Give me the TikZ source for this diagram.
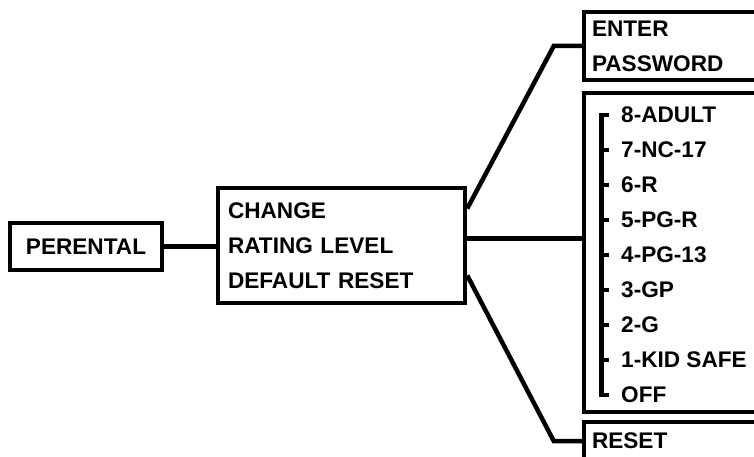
\documentclass[tikz,border=0pt]{standalone}
\usepackage{fontspec}
\setmainfont{Liberation Sans}
\begin{document}
\begin{tikzpicture}[x=1pt, y=-1pt, font=\fontsize{22.6}{35}\selectfont\bfseries]
			\tikzset{box/.style={draw, line width=4.5pt, rectangle, inner ysep=0pt, inner xsep=8pt, align=left},
				wire/.style={draw, line width=4.5pt}}
			\useasboundingbox (0,0) rectangle (754,457);
			\clip (0,0) rectangle (754,457);
			\node[box, minimum width=152pt, minimum height=47pt, align=center] (perental) at (86,246.5) {PERENTAL};
			\node[box, text width=227pt, inner xsep=10pt, minimum height=115pt] (menu) at (341.5,245.5) {CHANGE\\RATING LEVEL\\DEFAULT RESET};
			\node[box, text width=184pt, minimum height=68pt] (pass) at (684,46) {ENTER\\PASSWORD};
			\node[box, minimum width=200pt, minimum height=319pt] (rate) at (684,252.5) {};
			\node[box, text width=184pt, minimum height=38pt] (reset) at (684,441) {RESET};
			% rating levels
			\foreach \lbl [count=\k from 0] in {8-ADULT,7-NC-17,6-R,5-PG-R,4-PG-13,3-GP,2-G,1-KID SAFE,OFF}
				\node[anchor=west, inner sep=0pt] (r\k) at (621,{115+35*\k}) {\lbl};
			\path[wire] (609,115) -| (601.5,395) -- (609,395);
			\foreach \k in {1,...,7}
				\path[wire] (601.5,{115+35*\k}) -- (609,{115+35*\k});
			% connectors
			\coordinate (mid) at ([yshift=7pt]menu.east);
			\path[wire] (perental.east) -- (perental.east -| menu.west);
			\path[wire] ([yshift=37pt]menu.east) -- ([xshift=-28pt]pass.west) -- (pass.west);
			\path[wire] (mid) -- (mid -| rate.west);
			\path[wire] ([yshift=-30pt]menu.east) -- ([xshift=-28pt]reset.west) -- (reset.west);
\end{tikzpicture}
\end{document}
